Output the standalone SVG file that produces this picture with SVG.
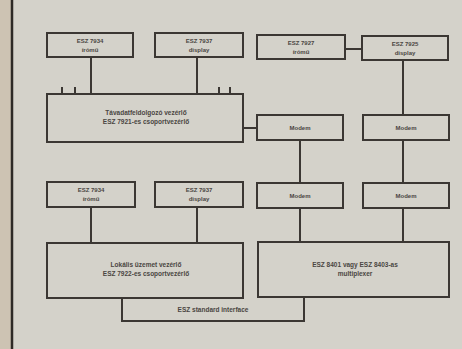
<svg xmlns="http://www.w3.org/2000/svg" width="462" height="349" viewBox="0 0 462 349">
<style>
.box{fill:none;stroke:#3b3733;stroke-width:2}
.ln{fill:none;stroke:#3b3733;stroke-width:2}
text{font-family:"Liberation Sans",Arial,sans-serif;font-weight:bold;fill:#4a4642;text-anchor:middle}
.s{font-size:6px}
.m{font-size:6.5px}
</style>
<rect x="0" y="0" width="462" height="349" fill="#d4d2ca"/>
<rect x="0" y="0" width="12" height="349" fill="#cdc3b3"/>
<line x1="12" y1="0" x2="12" y2="349" stroke="#2e2a26" stroke-width="2.5"/>
<g id="connectors">
<line class="ln" x1="91" y1="57" x2="91" y2="94"/>
<line class="ln" x1="197" y1="57" x2="197" y2="94"/>
<line class="ln" x1="62" y1="87" x2="62" y2="94"/>
<line class="ln" x1="75" y1="87" x2="75" y2="94"/>
<line class="ln" x1="219" y1="87" x2="219" y2="94"/>
<line class="ln" x1="230" y1="87" x2="230" y2="94"/>
<line class="ln" x1="345" y1="49" x2="362" y2="49"/>
<line class="ln" x1="403" y1="60" x2="403" y2="115"/>
<line class="ln" x1="243" y1="128" x2="257" y2="128"/>
<line class="ln" x1="300" y1="140" x2="300" y2="183"/>
<line class="ln" x1="403" y1="140" x2="403" y2="183"/>
<line class="ln" x1="300" y1="208" x2="300" y2="242"/>
<line class="ln" x1="403" y1="208" x2="403" y2="242"/>
<line class="ln" x1="91" y1="207" x2="91" y2="243"/>
<line class="ln" x1="197" y1="207" x2="197" y2="243"/>
</g>
<g id="iromu1"><rect class="box" x="47" y="33" width="86" height="24"/><text class="s" x="90" y="43">ESZ 7934</text><text class="s" x="90" y="52">írómű</text></g>
<g id="display1"><rect class="box" x="155" y="33" width="88" height="24"/><text class="s" x="199" y="43">ESZ 7937</text><text class="s" x="199" y="52">display</text></g>
<g id="iromu2"><rect class="box" x="257" y="35" width="88" height="24"/><text class="s" x="301" y="45">ESZ 7927</text><text class="s" x="301" y="54">írómű</text></g>
<g id="display2"><rect class="box" x="362" y="36" width="86" height="24"/><text class="s" x="405" y="46">ESZ 7925</text><text class="s" x="405" y="55">display</text></g>
<g id="tavadat"><rect class="box" x="47" y="94" width="196" height="48"/><text class="m" x="146" y="115">Távadatfeldolgozó vezérlő</text><text class="m" x="146" y="124">ESZ 7921-es csoportvezérlő</text></g>
<g id="modem1"><rect class="box" x="257" y="115" width="86" height="25"/><text class="s" x="300" y="130">Modem</text></g>
<g id="modem2"><rect class="box" x="363" y="115" width="86" height="25"/><text class="s" x="406" y="130">Modem</text></g>
<g id="iromu3"><rect class="box" x="47" y="182" width="88" height="25"/><text class="s" x="91" y="192">ESZ 7934</text><text class="s" x="91" y="201">írómű</text></g>
<g id="display3"><rect class="box" x="155" y="182" width="88" height="25"/><text class="s" x="199" y="192">ESZ 7937</text><text class="s" x="199" y="201">display</text></g>
<g id="modem3"><rect class="box" x="257" y="183" width="86" height="25"/><text class="s" x="300" y="198">Modem</text></g>
<g id="modem4"><rect class="box" x="363" y="183" width="86" height="25"/><text class="s" x="406" y="198">Modem</text></g>
<g id="lokalis"><rect class="box" x="47" y="243" width="196" height="55"/><text class="m" x="146" y="267">Lokális üzemet vezérlő</text><text class="m" x="146" y="276">ESZ 7922-es csoportvezérlő</text></g>
<g id="multiplexer"><rect class="box" x="258" y="242" width="191" height="55"/><text class="m" x="355" y="267">ESZ 8401 vagy ESZ 8403-as</text><text class="m" x="355" y="276">multiplexer</text></g>
<g id="interface"><path class="box" d="M122,298 V321 H304 V297"/><text class="m" x="213" y="312">ESZ standard interface</text></g>
</svg>
